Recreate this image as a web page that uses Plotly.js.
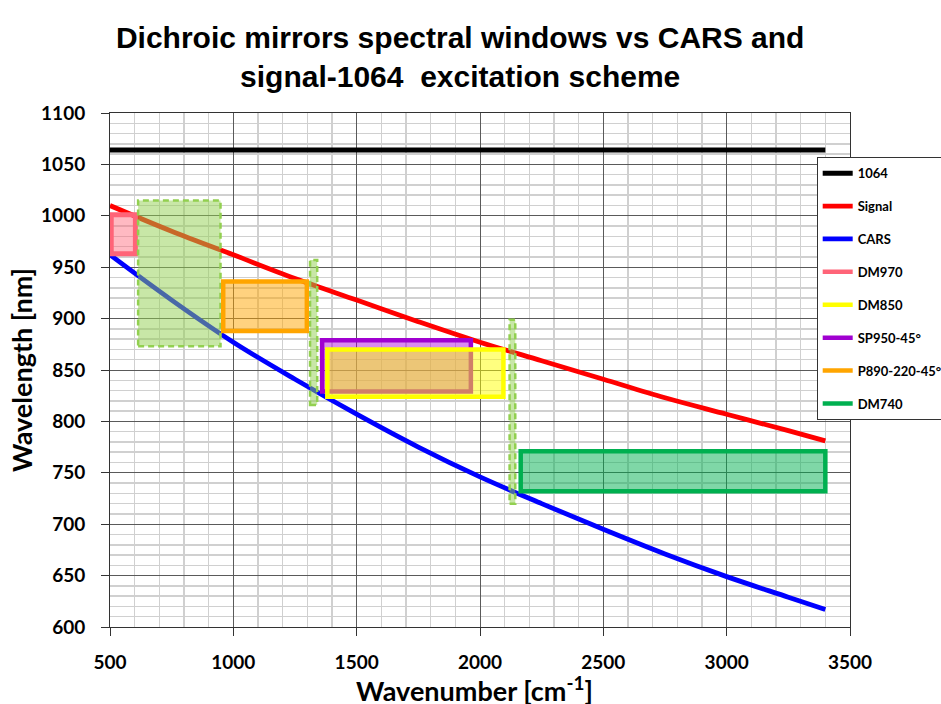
<!DOCTYPE html>
<html>
<head>
<meta charset="utf-8">
<script src="https://cdn.plot.ly/plotly-3.0.1.min.js"></script>
<style>
  html, body { margin: 0; padding: 0; background: #fff; }
  #chart { width: 941px; height: 704px; }
</style>
</head>
<body>
<div id="chart"></div>
<script>
// Wavenumber shift (cm^-1) and the resulting wavelengths (nm)
const wavenumber = [500, 750, 1000, 1250, 1500, 1750, 2000, 2250, 2500, 2750, 3000, 3250, 3400];
const signalNm   = [1010, 985, 962, 939, 918, 897, 877, 859, 841, 823, 807, 791, 781];
const carsNm     = [962, 918, 877, 841, 807, 775, 746, 720, 695, 671, 649, 629, 617];

// Pump laser line
const pumpX  = [500, 3400];
const pumpNm = [1064, 1064];

// Mirror / filter windows: [x0, x1] in cm^-1, [y0, y1] in nm
const filterNames = ['DM970', 'DM850', 'SP950-45°', 'P890-220-45°', 'DM740'];
const filterX0 = [505, 1381, 1360, 959, 2165];
const filterX1 = [603, 2095, 1963, 1298, 3400];
const filterY0 = [963, 824, 829, 888, 732];
const filterY1 = [1001, 870, 879, 936, 771];

// Transition bands between windows (dashed green)
const bandX0 = [614, 1311, 2120];
const bandX1 = [948, 1340, 2143];
const bandY0 = [873, 816, 720];
const bandY1 = [1015, 957, 899];

const filterLine = ['#FF6478', '#FFFF00', '#A000D0', '#FFA500', '#00B050'];
const filterFill = ['rgba(255,100,120,0.45)', 'rgba(255,255,0,0.5)', 'rgba(170,0,220,0.45)',
                    'rgba(255,165,0,0.5)', 'rgba(0,176,80,0.5)'];
const filterWidth = [5, 4.5, 4.5, 4.5, 4.5];

const traces = [
  { x: pumpX, y: pumpNm, name: '1064', mode: 'lines', line: { color: '#000000', width: 5 }, legendgroup: 'g0' },
  { x: wavenumber, y: signalNm, name: 'Signal', mode: 'lines', line: { color: '#FF0000', width: 4.8, shape: 'spline', smoothing: 1 }, legendgroup: 'g1' },
  { x: wavenumber, y: carsNm, name: 'CARS', mode: 'lines', line: { color: '#0000FF', width: 4.8, shape: 'spline', smoothing: 1 }, legendgroup: 'g2' }
];
// Legend entries for the windows (the boxes themselves are layout shapes)
filterNames.forEach((n, i) => {
  traces.push({ x: [null], y: [null], name: n, mode: 'lines', line: { color: filterLine[i], width: 4.5 }, legendgroup: 'f' + i });
});

const shapes = [];
function rect(x0, x1, y0, y1, line, fill, width, dash) {
  shapes.push({ type: 'rect', xref: 'x', yref: 'y', x0: x0, x1: x1, y0: y0, y1: y1,
    fillcolor: fill, line: { color: line, width: width, dash: dash || 'solid' }, layer: 'above' });
}
// DM970 first, then transition bands, then the remaining windows
rect(filterX0[0], filterX1[0], filterY0[0], filterY1[0], filterLine[0], filterFill[0], filterWidth[0]);
for (let i = 0; i < bandX0.length; i++) {
  rect(bandX0[i], bandX1[i], bandY0[i], bandY1[i], '#92D050', 'rgba(146,208,80,0.5)', 2.5, '6px,4px');
}
[3, 2, 1, 4].forEach(i => rect(filterX0[i], filterX1[i], filterY0[i], filterY1[i], filterLine[i], filterFill[i], filterWidth[i]));

const tickFont = { family: 'Lato, sans-serif', size: 19, color: '#000', weight: 'bold' };
const axTitleFont = { family: 'Lato, sans-serif', size: 27, color: '#000', weight: 'bold' };

const layout = {
  width: 941, height: 704,
  margin: { l: 110, r: 91, t: 113, b: 77, autoexpand: false },
  paper_bgcolor: '#fff', plot_bgcolor: '#fff',
  title: {
    text: 'Dichroic mirrors spectral windows vs CARS and<br>signal-1064  excitation scheme',
    font: { family: 'Liberation Sans, Arial, sans-serif', size: 30, color: '#000', weight: 'bold' },
    x: 0.489, xanchor: 'center', xref: 'container',
    y: 0.932, yanchor: 'top', yref: 'container'
  },
  xaxis: {
    range: [500, 3500], dtick: 500, tick0: 500,
    showgrid: true, gridcolor: '#5a5a5a', gridwidth: 1,
    minor: { dtick: 100, showgrid: true, gridcolor: '#d0d0d0', gridwidth: 1.5 },
    ticks: 'outside', ticklen: 8, tickcolor: '#333', tickwidth: 1,
    showline: true, linecolor: '#333', linewidth: 1, mirror: true,
    zeroline: false, tickfont: tickFont, ticklabelstandoff: 10
  },
  yaxis: {
    range: [600, 1100], dtick: 50, tick0: 600,
    showgrid: true, gridcolor: '#5a5a5a', gridwidth: 1,
    minor: { dtick: 10, showgrid: true, gridcolor: '#d0d0d0', gridwidth: 1.5 },
    ticks: 'outside', ticklen: 8, tickcolor: '#333', tickwidth: 1,
    showline: true, linecolor: '#333', linewidth: 1, mirror: true,
    zeroline: false, tickfont: tickFont, ticklabelstandoff: 12,
    title: { text: 'Wavelength [nm]', font: axTitleFont, standoff: 0 }
  },
  // x-axis title placed just below the tick labels
  annotations: [{
    text: 'Wavenumber [cm<sup>-1</sup>]', font: axTitleFont, showarrow: false,
    xref: 'paper', x: 0.493, xanchor: 'center',
    yref: 'paper', y: -0.121, yanchor: 'middle'
  }],
  showlegend: true,
  legend: {
    x: 0.955, xanchor: 'left', xref: 'paper',
    y: 0.914, yanchor: 'top', yref: 'paper',
    bgcolor: '#fff', bordercolor: '#333', borderwidth: 1,
    font: { family: 'Lato, sans-serif', size: 13, color: '#000', weight: 'bold' },
    traceorder: 'grouped', tracegroupgap: 13
  },
  shapes: shapes
};

Plotly.newPlot('chart', traces, layout, { displayModeBar: false, staticPlot: true });
</script>
</body>
</html>
